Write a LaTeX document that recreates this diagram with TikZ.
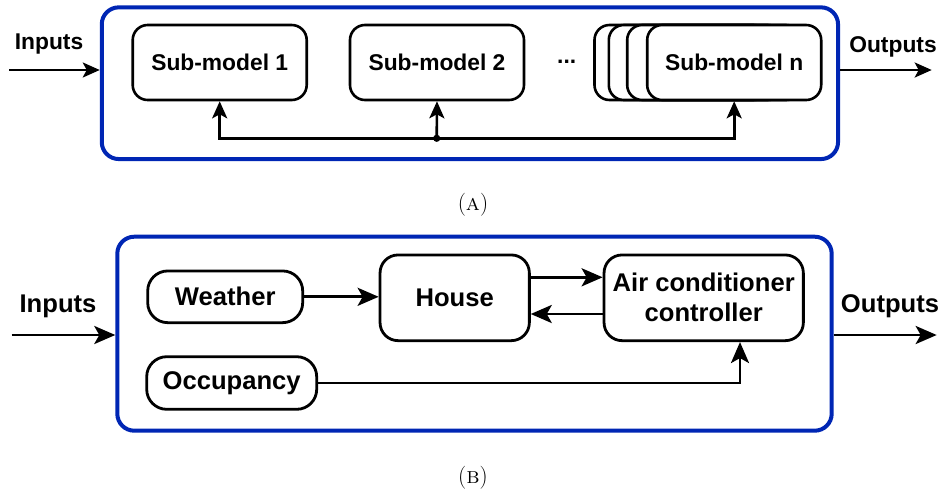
\documentclass[tikz,border=0pt]{standalone}
\usepackage{fontspec}
\newfontfamily\lsans{Liberation Sans}
\usetikzlibrary{arrows.meta}
\definecolor{frameblue}{RGB}{0,38,180}
\tikzset{
  fA/.style={font=\lsans\bfseries\fontsize{22.8}{27}\selectfont},
  fB/.style={font=\lsans\bfseries\fontsize{25.6}{30}\selectfont},
  frame/.style={draw=frameblue, line width=4pt, rounded corners=17pt, inner sep=0pt},
  blk/.style={draw, line width=2.8pt, fill=white, inner sep=0pt, align=center},
  subbox/.style={blk, fA, line width=2.6pt, rounded corners=15pt, minimum width=174pt, minimum height=75pt},
  conn/.style={line width=2.6pt, -{Stealth[length=17pt,width=15pt,inset=4pt]}},
  connB/.style={line width=2.9pt, -{Stealth[length=21pt,width=18pt,inset=5pt]}},
  lbl/.style={inner sep=0pt},
  captxt/.style={inner sep=0pt}
}
\newcommand{\capfont}{\rmfamily\fontsize{23}{27}\selectfont}
\begin{document}
\begin{tikzpicture}[x=1pt,y=-1pt]
\useasboundingbox (0,0) rectangle (946,491);
% ---------- Panel A ----------
\node[frame, minimum width=736.3pt, minimum height=151.7pt] (boxA) at (469.9,83.2) {};
\node[subbox] (s1) at (219.7,62.5) {Sub-model 1};
\node[subbox] (s2) at (437,62.5) {Sub-model 2};
\node[lbl, fA] (dots) at (566.7,62) {...};
\node[subbox] (b1) at (681.5,62.5) {};
\node[subbox] (b2) at (695.8,62.5) {};
\node[subbox] (b3) at (714.2,62.5) {};
\node[subbox] (sn) at (734.2,62.5) {Sub-model n};
\coordinate (j) at (436.7,138.3);
\draw[conn] (j) -| (s1.south);
\draw[conn] (j) -| (sn.south);
\draw[conn] (j) -- (s2.south);
\fill (j) circle (3.6pt);
\coordinate (inA) at (9,70);
\coordinate (outA) at (931.7,70);
\draw[conn] (inA) -- (inA -| boxA.west);
\draw[conn] (outA -| boxA.east) -- (outA);
\node[lbl, fA] (inAl) at (49,44) {Inputs};
\node[lbl, fA] (outAl) at (893,47) {Outputs};
\node[captxt] (capA) at (473,205) {\capfont(\textsc{a})};
% ---------- Panel B ----------
\node[frame, minimum width=714.4pt, minimum height=194pt] (boxB) at (474.5,333.7) {};
\node[blk, fB, rounded corners=20pt, minimum width=155pt, minimum height=51.7pt] (weather) at (225.2,296.8) {Weather};
\node[blk, fB, rounded corners=20pt, minimum width=170pt, minimum height=52.6pt] (occ) at (231.7,383) {Occupancy};
\node[blk, fB, rounded corners=18pt, minimum width=149.3pt, minimum height=85.7pt] (house) at (454.7,297.8) {House};
\node[blk, fB, rounded corners=18pt, minimum width=199.3pt, minimum height=85.7pt] (ac) at (703.7,297.8) {Air conditioner\\controller};
\draw[connB] (weather.east) -- (weather.east -| house.west);
\draw[connB] ([yshift=20.5pt]house.east) -- ([yshift=20.5pt]ac.west);
\draw[connB] ([yshift=-16.2pt]ac.west) -- ([yshift=-16.2pt]house.east);
\draw[connB] (occ.east) -| ([xshift=36.3pt]ac.south);
\coordinate (inB) at (11.7,335);
\coordinate (outB) at (936.7,335);
\draw[connB] (inB) -- (inB -| boxB.west);
\draw[connB] (outB -| boxB.east) -- (outB);
\node[lbl, fB] (inBl) at (58,306) {Inputs};
\node[lbl, fB] (outBl) at (890,306) {Outputs};
\node[captxt] (capB) at (473,478) {\capfont(\textsc{b})};
\end{tikzpicture}
\end{document}
